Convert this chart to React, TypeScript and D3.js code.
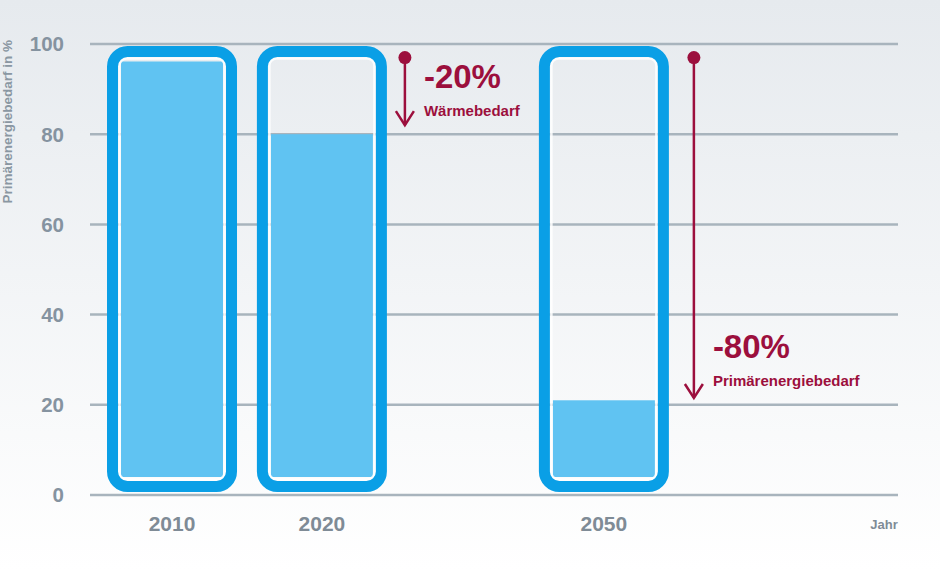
import React, { useRef, useEffect } from 'react';
import * as d3 from 'd3';

// chart data
const years = [2010, 2020, 2050];
const values = [100, 80, 21];
const yTicks = [0, 20, 40, 60, 80, 100];
const annotations = [
    { year: 2020, from: 97, to: 82, label: '-20%', sub: 'Wärmebedarf', dx: 83, textDy: 0 },
    { year: 2050, from: 97, to: 21.5, label: '-80%', sub: 'Primärenergiebedarf', dx: 90, textDy: 270 },
];

const W = 940;
const H = 570;

const App: React.FC = () => {
    const svgRef = useRef<SVGSVGElement | null>(null);

    useEffect(() => {
        const svg = d3.select(svgRef.current);
        svg.selectAll('*').remove();

        const margin = { top: 44, right: 42, bottom: 75, left: 90 };
        const innerWidth = W - margin.left - margin.right;
        const font = '"Liberation Sans", Arial, sans-serif';
        const crimson = '#9c0f3d';

        // background gradient
        const defs = svg.append('defs');
        const grad = defs.append('linearGradient')
            .attr('id', 'bg')
            .attr('x1', 0).attr('y1', 0).attr('x2', 0).attr('y2', 1);
        grad.append('stop').attr('offset', '0%').attr('stop-color', '#e6eaee');
        grad.append('stop').attr('offset', '100%').attr('stop-color', '#ffffff');
        svg.append('rect').attr('width', W).attr('height', H).attr('fill', 'url(#bg)');

        const y = d3.scaleLinear().domain([0, 100]).range([H - margin.bottom, margin.top]);
        // years are not evenly spaced on the axis
        const x = d3.scaleLinear()
            .domain(years)
            .range([margin.left + innerWidth * 0.1015, margin.left + innerWidth * 0.287, margin.left + innerWidth * 0.636]);

        // y axis ticks + gridlines
        const grid = svg.append('g');
        grid.selectAll('line')
            .data(yTicks)
            .enter()
            .append('line')
            .attr('x1', margin.left)
            .attr('x2', W - margin.right)
            .attr('y1', d => y(d))
            .attr('y2', d => y(d))
            .style('stroke', '#a8b4bd')
            .style('stroke-width', '2.5px');

        grid.selectAll('text')
            .data(yTicks)
            .enter()
            .append('text')
            .attr('x', 64)
            .attr('y', d => y(d))
            .attr('dy', '0.36em')
            .attr('text-anchor', 'end')
            .style('font-family', font)
            .style('font-weight', 'bold')
            .style('font-size', '20.5px')
            .style('fill', '#8593a0')
            .text(d => d);

        svg.append('text')
            .attr('transform', `translate(12, ${margin.top - 4}) rotate(-90)`)
            .attr('text-anchor', 'end')
            .style('font-family', font)
            .style('font-weight', 'bold')
            .style('font-size', '13.5px')
            .style('fill', '#8a97a2')
            .text('Primärenergiebedarf in %');

        // bars
        const bars = svg.append('g')
            .selectAll('g')
            .data(years.map((yr, i) => ({ year: yr, value: values[i] })))
            .enter()
            .append('g');

        const frameTop = y(100) + 7.5;
        const frameBottom = y(0) - 8.5;

        bars.append('rect')
            .attr('x', d => x(d.year) - 51)
            .attr('width', 102)
            .attr('y', d => Math.max(y(d.value), frameTop + 10))
            .attr('height', d => y(0) - 18 - Math.max(y(d.value), frameTop + 10))
            .style('fill', '#60c3f2');

        bars.append('rect')
            .attr('x', d => x(d.year) - 52.5)
            .attr('width', 105)
            .attr('y', frameTop + 7)
            .attr('height', frameBottom - frameTop - 14)
            .attr('rx', 7)
            .style('fill', 'none')
            .style('stroke', '#ffffff')
            .style('stroke-opacity', 0.85)
            .style('stroke-width', '2.5px');

        bars.append('rect')
            .attr('x', d => x(d.year) - 59.5)
            .attr('width', 119)
            .attr('y', frameTop)
            .attr('height', frameBottom - frameTop)
            .attr('rx', 15)
            .style('fill', 'none')
            .style('stroke', '#0a9fe6')
            .style('stroke-width', '11px');

        // x labels
        svg.append('g')
            .selectAll('text')
            .data(years)
            .enter()
            .append('text')
            .attr('x', d => x(d))
            .attr('y', 531)
            .attr('text-anchor', 'middle')
            .style('font-family', font)
            .style('font-weight', 'bold')
            .style('font-size', '21px')
            .style('fill', '#7f8b96')
            .text(d => d);

        svg.append('text')
            .attr('x', 884)
            .attr('y', 529)
            .attr('text-anchor', 'middle')
            .style('font-family', font)
            .style('font-weight', 'bold')
            .style('font-size', '13px')
            .style('fill', '#7f8b96')
            .text('Jahr');

        // annotations
        annotations.forEach(a => {
            const ax = x(a.year) + a.dx;
            const g = svg.append('g');
            g.append('line')
                .attr('x1', ax).attr('x2', ax)
                .attr('y1', y(a.from)).attr('y2', y(a.to))
                .style('stroke', crimson)
                .style('stroke-width', '2.5px');
            g.append('circle')
                .attr('cx', ax).attr('cy', y(a.from))
                .attr('r', 6.5)
                .style('fill', crimson);
            g.append('path')
                .attr('d', d3.line()([[ax - 9, y(a.to) - 14], [ax, y(a.to)], [ax + 9, y(a.to) - 14]]))
                .style('fill', 'none')
                .style('stroke', crimson)
                .style('stroke-width', '2.5px');
            g.append('text')
                .attr('x', ax + 19)
                .attr('y', 88 + a.textDy)
                .style('font-family', font)
                .style('font-weight', 'bold')
                .style('font-size', '33px')
                .style('fill', crimson)
                .text(a.label);
            g.append('text')
                .attr('x', ax + 19)
                .attr('y', 116 + a.textDy)
                .style('font-family', font)
                .style('font-weight', 'bold')
                .style('font-size', '15px')
                .style('fill', crimson)
                .text(a.sub);
        });
    }, []);

    return (
        <div style={{ position: 'absolute', left: 0, top: 0 }}>
            <svg ref={svgRef} width={W} height={H} style={{ display: 'block' }}></svg>
        </div>
    );
};

export default App;
